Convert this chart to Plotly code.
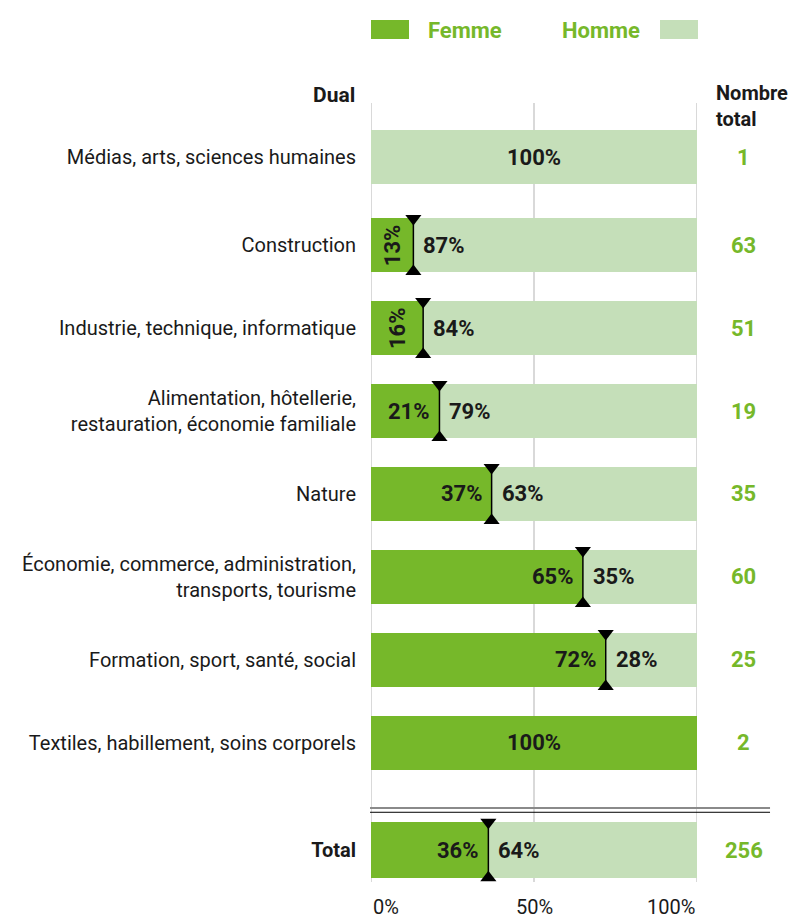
import plotly.graph_objects as go

categories = [
    "Médias, arts, sciences humaines",
    "Construction",
    "Industrie, technique, informatique",
    "Alimentation, hôtellerie,<br>restauration, économie familiale",
    "Nature",
    "Économie, commerce, administration,<br>transports, tourisme",
    "Formation, sport, santé, social",
    "Textiles, habillement, soins corporels",
    "<b>Total</b>",
]
femme = [0, 13, 16, 21, 37, 65, 72, 100, 36]
homme = [100, 87, 84, 79, 63, 35, 28, 0, 64]
nombre_total = [1, 63, 51, 19, 35, 60, 25, 2, 256]
tick_vals = [0, 50, 100]
tick_text = ["0%", "50%", "100%"]

GREEN = "#76b82a"
LIGHT = "#c5dfb9"
DARK = "#1a1a1a"
FONT = "Roboto, Arial, sans-serif"

# vertical layout (row index units)
pos = [-0.06, 1, 2, 3, 4, 5, 6, 7, 8.29]
widths = [0.64] * 8 + [0.67]

fig = go.Figure()
fig.add_trace(go.Bar(y=pos, x=femme, orientation="h", width=widths,
                     marker=dict(color=GREEN, line=dict(width=0)), name="Femme",
                     hoverinfo="skip"))
fig.add_trace(go.Bar(y=pos, x=homme, orientation="h", width=widths,
                     marker=dict(color=LIGHT, line=dict(width=0)), name="Homme",
                     hoverinfo="skip"))

# divider markers
for f, h, p, w in zip(femme, homme, pos, widths):
    if f == 0 or h == 0:
        continue
    half = w / 2
    fig.add_trace(go.Scatter(x=[f, f], y=[p - half, p + half], mode="lines",
                             line=dict(color="black", width=1.5),
                             hoverinfo="skip", showlegend=False))
    fig.add_trace(go.Scatter(x=[f], y=[p - half], mode="markers",
                             marker=dict(symbol="triangle-down", size=14, color="black"),
                             hoverinfo="skip", showlegend=False))
    fig.add_trace(go.Scatter(x=[f], y=[p + half], mode="markers",
                             marker=dict(symbol="triangle-up", size=14, color="black"),
                             hoverinfo="skip", showlegend=False))

annotations = []
lab_font = dict(family=FONT, size=22, color=DARK)
for f, h, p in zip(femme, homme, pos):
    if h == 0:
        annotations.append(dict(x=50, y=p, text=f"<b>{f}%</b>", showarrow=False,
                                xanchor="center", yanchor="middle", font=lab_font))
    elif f == 0:
        annotations.append(dict(x=50, y=p, text=f"<b>{h}%</b>", showarrow=False,
                                xanchor="center", yanchor="middle", font=lab_font))
    else:
        if f < 18:
            annotations.append(dict(x=f / 2, y=p, text=f"<b>{f}%</b>", showarrow=False,
                                    textangle=-90, xanchor="center", yanchor="middle",
                                    font=lab_font))
        else:
            annotations.append(dict(x=f, y=p, text=f"<b>{f}%</b>", showarrow=False,
                                    xanchor="right", yanchor="middle", xshift=-7,
                                    font=lab_font))
        annotations.append(dict(x=f, y=p, text=f"<b>{h}%</b>", showarrow=False,
                                xanchor="left", yanchor="middle", xshift=8,
                                font=lab_font))

for n, p in zip(nombre_total, pos):
    annotations.append(dict(x=1.144, xref="paper", y=p, yref="y", text=f"<b>{n}</b>",
                            showarrow=False, xanchor="center", yanchor="middle",
                            font=dict(family=FONT, size=22, color=GREEN)))

# x tick labels
anchors = ["left", "center", "right"]
for v, t, a in zip(tick_vals, tick_text, anchors):
    annotations.append(dict(x=v, y=-0.032, yref="paper", text=t, showarrow=False,
                            xanchor=a, yanchor="middle",
                            font=dict(family=FONT, size=20, color=DARK)))

# headers
annotations.append(dict(x=-0.043, y=1.010, xref="paper", yref="paper", text="<b>Dual</b>",
                        showarrow=False, xanchor="right", yanchor="middle",
                        font=dict(family=FONT, size=21, color=DARK)))
annotations.append(dict(x=1.052, y=0.996, xref="paper", yref="paper",
                        text="<b>Nombre<br>total</b>", align="left",
                        showarrow=False, xanchor="left", yanchor="middle",
                        font=dict(family=FONT, size=20, color=DARK)))
# legend
annotations.append(dict(x=0.1687, y=1.0937, xref="paper", yref="paper", text="<b>Femme</b>",
                        showarrow=False, xanchor="left", yanchor="middle",
                        font=dict(family=FONT, size=22, color=GREEN)))
annotations.append(dict(x=0.831, y=1.0937, xref="paper", yref="paper", text="<b>Homme</b>",
                        showarrow=False, xanchor="right", yanchor="middle",
                        font=dict(family=FONT, size=22, color=GREEN)))

shapes = [
    dict(type="rect", xref="paper", yref="paper", x0=0, x1=0.1166, y0=1.0822, y1=1.1066,
         fillcolor=GREEN, line=dict(width=0)),
    dict(type="rect", xref="paper", yref="paper", x0=0.8865, x1=1.003, y0=1.0822, y1=1.1066,
         fillcolor=LIGHT, line=dict(width=0)),
    dict(type="line", xref="paper", yref="paper", x0=-0.003, x1=1.224, y0=0.095, y1=0.095,
         line=dict(color="#8a8a8a", width=2)),
    dict(type="line", xref="paper", yref="paper", x0=-0.003, x1=1.224, y0=0.0895, y1=0.0895,
         line=dict(color="black", width=1)),
]
for v in tick_vals:
    shapes.append(dict(type="line", xref="x", yref="paper", x0=v, x1=v, y0=0, y1=1,
                       line=dict(color="#cccccc", width=1.5), layer="below"))

fig.update_layout(
    template="none",
    barmode="stack",
    width=796, height=920,
    margin=dict(l=371, r=99, t=103, b=38, pad=0),
    paper_bgcolor="white", plot_bgcolor="white",
    showlegend=False,
    xaxis=dict(range=[0, 100], showgrid=False, zeroline=False, showticklabels=False,
               showline=False, fixedrange=True, automargin=False),
    yaxis=dict(range=[8.675, -0.711], tickvals=pos, ticktext=categories,
               showgrid=False, zeroline=False, showline=False, ticks="",
               ticklabelstandoff=14, automargin=False,
               tickfont=dict(family=FONT, size=20, color=DARK)),
    annotations=annotations,
    shapes=shapes,
)

fig.write_html("out.html", config={"displayModeBar": False},
               post_script="document.body.style.margin='0px';document.body.style.overflow='hidden';")
